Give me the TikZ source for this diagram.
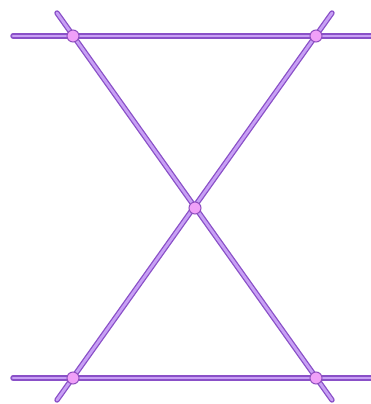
\documentclass[tikz,border=0pt]{standalone}
\definecolor{edgeout}{HTML}{8A50C8}
\definecolor{edgein}{HTML}{C8A0F5}
\definecolor{ptfill}{HTML}{F0A0F8}
\definecolor{ptline}{HTML}{9050C0}
\tikzset{
  seg/.style={draw=edgeout, double=edgein, double distance=2.8pt, line width=1.3pt, line cap=round},
  pt/.style={circle, draw=ptline, fill=ptfill, line width=1pt, inner sep=0pt, minimum size=12pt}
}
\begin{document}
\begin{tikzpicture}[x=1pt,y=-1pt]
\useasboundingbox (0,0) rectangle (371,404);
\fill[white] (0,0) rectangle (371,404);
\coordinate (tl) at (13,36);
\coordinate (tr) at (375,36);
\coordinate (bl) at (13,378);
\coordinate (br) at (375,378);
\coordinate (d1s) at (57,13);
\coordinate (d1e) at (332,400);
\coordinate (d2s) at (332,13);
\coordinate (d2e) at (57,400);
\draw[seg] (tl) -- (tr);
\draw[seg] (bl) -- (br);
\draw[seg] (d1s) -- (d1e);
\draw[seg] (d2s) -- (d2e);
\node[pt] (A) at (73,36) {};
\node[pt] (B) at (316,36) {};
\node[pt] (C) at (195,208) {};
\node[pt] (D) at (73,378) {};
\node[pt] (E) at (316,378) {};
\end{tikzpicture}
\end{document}
